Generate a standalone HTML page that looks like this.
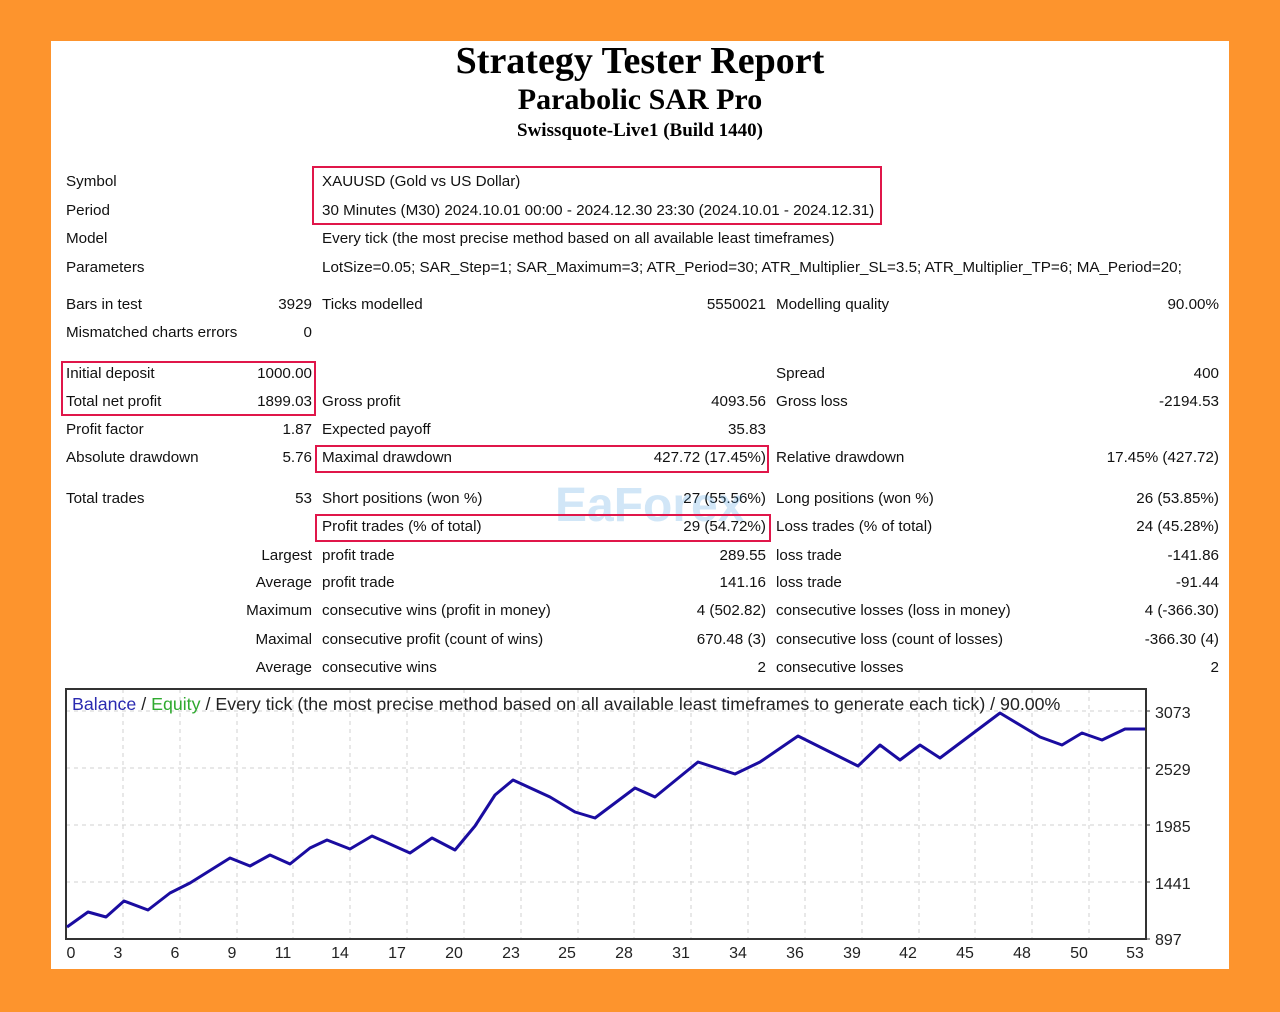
<!DOCTYPE html>
<html><head><meta charset="utf-8"><style>
body{margin:0;width:1280px;height:1012px;background:#fd942d;position:relative;overflow:hidden}
.card{position:absolute;left:51px;top:41px;width:1178px;height:928px;background:#fff}
.t{position:absolute;font-family:"Liberation Sans",sans-serif;font-size:15.2px;line-height:18px;white-space:nowrap;color:#111}
.r{text-align:right}
.h{position:absolute;left:0;width:1280px;text-align:center;font-family:"Liberation Serif",serif;font-weight:bold;color:#000;white-space:nowrap}
svg{position:absolute;left:0;top:0}
.ax{font-family:"Liberation Sans",sans-serif;font-size:16px;fill:#222}
</style></head><body>
<div class="card"></div>
<div class="h" style="top:39px;font-size:38px;line-height:44px">Strategy Tester Report</div>
<div class="h" style="top:83px;font-size:30px;line-height:34px">Parabolic SAR Pro</div>
<div class="h" style="top:120px;font-size:19px;line-height:22px">Swissquote-Live1 (Build 1440)</div>

<div class="t" style="left:66px;top:173px">Symbol</div>
<div class="t" style="left:322px;top:173px">XAUUSD (Gold vs US Dollar)</div>
<div class="t" style="left:66px;top:202px">Period</div>
<div class="t" style="left:322px;top:202px">30 Minutes (M30) 2024.10.01 00:00 - 2024.12.30 23:30 (2024.10.01 - 2024.12.31)</div>
<div class="t" style="left:66px;top:230px">Model</div>
<div class="t" style="left:322px;top:230px">Every tick (the most precise method based on all available least timeframes)</div>
<div class="t" style="left:66px;top:259px">Parameters</div>
<div class="t" style="left:322px;top:259px">LotSize=0.05; SAR_Step=1; SAR_Maximum=3; ATR_Period=30; ATR_Multiplier_SL=3.5; ATR_Multiplier_TP=6; MA_Period=20;</div>

<div class="t" style="left:66px;top:296px">Bars in test</div><div class="t r" style="right:968px;top:296px">3929</div>
<div class="t" style="left:322px;top:296px">Ticks modelled</div><div class="t r" style="right:514px;top:296px">5550021</div>
<div class="t" style="left:776px;top:296px">Modelling quality</div><div class="t r" style="right:61px;top:296px">90.00%</div>
<div class="t" style="left:66px;top:324px">Mismatched charts errors</div><div class="t r" style="right:968px;top:324px">0</div>

<div class="t" style="left:66px;top:365px">Initial deposit</div><div class="t r" style="right:968px;top:365px">1000.00</div>
<div class="t" style="left:776px;top:365px">Spread</div><div class="t r" style="right:61px;top:365px">400</div>
<div class="t" style="left:66px;top:393px">Total net profit</div><div class="t r" style="right:968px;top:393px">1899.03</div>
<div class="t" style="left:322px;top:393px">Gross profit</div><div class="t r" style="right:514px;top:393px">4093.56</div>
<div class="t" style="left:776px;top:393px">Gross loss</div><div class="t r" style="right:61px;top:393px">-2194.53</div>
<div class="t" style="left:66px;top:421px">Profit factor</div><div class="t r" style="right:968px;top:421px">1.87</div>
<div class="t" style="left:322px;top:421px">Expected payoff</div><div class="t r" style="right:514px;top:421px">35.83</div>
<div class="t" style="left:66px;top:449px">Absolute drawdown</div><div class="t r" style="right:968px;top:449px">5.76</div>
<div class="t" style="left:322px;top:449px">Maximal drawdown</div><div class="t r" style="right:514px;top:449px">427.72 (17.45%)</div>
<div class="t" style="left:776px;top:449px">Relative drawdown</div><div class="t r" style="right:61px;top:449px">17.45% (427.72)</div>

<div class="t" style="left:66px;top:490px">Total trades</div><div class="t r" style="right:968px;top:490px">53</div>
<div class="t" style="left:322px;top:490px">Short positions (won %)</div><div class="t r" style="right:514px;top:490px">27 (55.56%)</div>
<div class="t" style="left:776px;top:490px">Long positions (won %)</div><div class="t r" style="right:61px;top:490px">26 (53.85%)</div>
<div class="t" style="left:322px;top:518px">Profit trades (% of total)</div><div class="t r" style="right:514px;top:518px">29 (54.72%)</div>
<div class="t" style="left:776px;top:518px">Loss trades (% of total)</div><div class="t r" style="right:61px;top:518px">24 (45.28%)</div>
<div class="t r" style="right:968px;top:547px">Largest</div>
<div class="t" style="left:322px;top:547px">profit trade</div><div class="t r" style="right:514px;top:547px">289.55</div>
<div class="t" style="left:776px;top:547px">loss trade</div><div class="t r" style="right:61px;top:547px">-141.86</div>
<div class="t r" style="right:968px;top:574px">Average</div>
<div class="t" style="left:322px;top:574px">profit trade</div><div class="t r" style="right:514px;top:574px">141.16</div>
<div class="t" style="left:776px;top:574px">loss trade</div><div class="t r" style="right:61px;top:574px">-91.44</div>
<div class="t r" style="right:968px;top:602px">Maximum</div>
<div class="t" style="left:322px;top:602px">consecutive wins (profit in money)</div><div class="t r" style="right:514px;top:602px">4 (502.82)</div>
<div class="t" style="left:776px;top:602px">consecutive losses (loss in money)</div><div class="t r" style="right:61px;top:602px">4 (-366.30)</div>
<div class="t r" style="right:968px;top:631px">Maximal</div>
<div class="t" style="left:322px;top:631px">consecutive profit (count of wins)</div><div class="t r" style="right:514px;top:631px">670.48 (3)</div>
<div class="t" style="left:776px;top:631px">consecutive loss (count of losses)</div><div class="t r" style="right:61px;top:631px">-366.30 (4)</div>
<div class="t r" style="right:968px;top:659px">Average</div>
<div class="t" style="left:322px;top:659px">consecutive wins</div><div class="t r" style="right:514px;top:659px">2</div>
<div class="t" style="left:776px;top:659px">consecutive losses</div><div class="t r" style="right:61px;top:659px">2</div>

<div class="t" style="left:555px;top:478px;font-size:48px;line-height:56px;color:#4aa0e0;opacity:0.25;font-weight:bold">EaForex</div>

<svg width="1280" height="1012" viewBox="0 0 1280 1012">
<g fill="none" stroke="#e0164a" stroke-width="2">
<rect x="313" y="167" width="568" height="57"/>
<rect x="62" y="362" width="253" height="53"/>
<rect x="316" y="446" width="452" height="26"/>
<rect x="316" y="515" width="454" height="26"/>
</g>
<g stroke="#d2d2d2" stroke-width="1" stroke-dasharray="4,4">
<line x1="66" y1="711" x2="1146" y2="711"/>
<line x1="66" y1="768" x2="1146" y2="768"/>
<line x1="66" y1="825" x2="1146" y2="825"/>
<line x1="66" y1="882" x2="1146" y2="882"/>
<line x1="123" y1="689" x2="123" y2="939"/><line x1="180" y1="689" x2="180" y2="939"/>
<line x1="237" y1="689" x2="237" y2="939"/><line x1="293" y1="689" x2="293" y2="939"/>
<line x1="350" y1="689" x2="350" y2="939"/><line x1="407" y1="689" x2="407" y2="939"/>
<line x1="464" y1="689" x2="464" y2="939"/><line x1="521" y1="689" x2="521" y2="939"/>
<line x1="578" y1="689" x2="578" y2="939"/><line x1="634" y1="689" x2="634" y2="939"/>
<line x1="691" y1="689" x2="691" y2="939"/><line x1="748" y1="689" x2="748" y2="939"/>
<line x1="805" y1="689" x2="805" y2="939"/><line x1="862" y1="689" x2="862" y2="939"/>
<line x1="919" y1="689" x2="919" y2="939"/><line x1="975" y1="689" x2="975" y2="939"/>
<line x1="1032" y1="689" x2="1032" y2="939"/><line x1="1089" y1="689" x2="1089" y2="939"/>
</g>
<rect x="66" y="689" width="1080" height="250" fill="none" stroke="#333" stroke-width="2"/>
<g stroke="#333" stroke-width="1">
<line x1="1146" y1="711" x2="1150" y2="711"/><line x1="1146" y1="768" x2="1150" y2="768"/>
<line x1="1146" y1="825" x2="1150" y2="825"/><line x1="1146" y1="882" x2="1150" y2="882"/>
<line x1="1146" y1="939" x2="1150" y2="939"/>
</g>
<polyline fill="none" stroke="#1a0ca0" stroke-width="3" stroke-linejoin="round" points="67,927 88,912 106,917 124,901 148,910 170,893 190,883 230,858 250,866 270,855 290,864 310,848 327,840 350,849 372,836 410,853 432,838 455,850 475,826 495,795 513,780 550,797 575,812 595,818 635,788 655,797 698,762 735,774 760,762 798,736 858,766 880,745 900,760 920,745 940,758 1000,713 1040,737 1062,745 1082,733 1102,740 1125,729 1145,729"/>
<text x="72" y="710" class="ax" style="font-size:17.8px"><tspan fill="#2a2ab0">Balance</tspan> / <tspan fill="#2faa2f">Equity</tspan> / Every tick (the most precise method based on all available least timeframes to generate each tick) / 90.00%</text>
<g class="ax" font-size="17">
<text x="1155" y="718">3073</text><text x="1155" y="775">2529</text>
<text x="1155" y="832">1985</text><text x="1155" y="889">1441</text>
<text x="1155" y="945">897</text>
</g>
<g class="ax" font-size="17" text-anchor="middle">
<text x="71" y="958">0</text><text x="118" y="958">3</text><text x="175" y="958">6</text>
<text x="232" y="958">9</text><text x="283" y="958">11</text><text x="340" y="958">14</text>
<text x="397" y="958">17</text><text x="454" y="958">20</text><text x="511" y="958">23</text>
<text x="567" y="958">25</text><text x="624" y="958">28</text><text x="681" y="958">31</text>
<text x="738" y="958">34</text><text x="795" y="958">36</text><text x="852" y="958">39</text>
<text x="908" y="958">42</text><text x="965" y="958">45</text><text x="1022" y="958">48</text>
<text x="1079" y="958">50</text><text x="1135" y="958">53</text>
</g>
</svg>
</body></html>
